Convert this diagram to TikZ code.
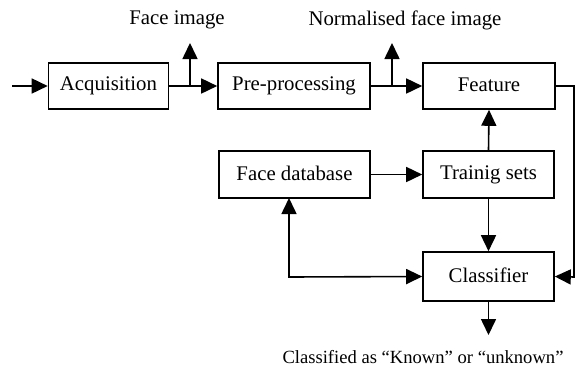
\documentclass[tikz,border=0pt]{standalone}
\usepackage{fontspec}
\setmainfont{Liberation Serif}
\usetikzlibrary{arrows.meta}
\begin{document}
\begin{tikzpicture}[x=1pt,y=-1pt,
  box/.style={draw,line width=1.6pt,minimum height=46pt,inner sep=0pt,
    font=\fontsize{20.8}{24}\selectfont},
  lbl/.style={inner sep=0pt,font=\fontsize{20.8}{24}\selectfont},
  conn/.style={line width=1.6pt},
  arr/.style={conn,-{Triangle[length=16pt,width=15pt]}},
  darr/.style={conn,{Triangle[length=16pt,width=15pt]}-{Triangle[length=16pt,width=15pt]}}]
\useasboundingbox (0,0) rectangle (577,375);
\fill[white] (0,0) rectangle (577,375);
% boxes
\node[box,minimum width=120pt] (acq) at (108.5,86) {\raisebox{3pt}{Acquisition}};
\node[box,minimum width=152pt] (pre) at (294,86) {\raisebox{3pt}{Pre-processing}};
\node[box,minimum width=132pt] (fea) at (489,86) {\raisebox{3pt}{Feature}};
\node[box,minimum width=151pt,minimum height=47pt] (fdb) at (294.5,174.5) {\raisebox{3pt}{Face database}};
\node[box,minimum width=131pt,minimum height=47pt] (trn) at (488.5,174.5) {\raisebox{3pt}{Trainig sets}};
\node[box,minimum width=131pt,minimum height=49pt] (cls) at (488.5,276.5) {\raisebox{3pt}{Classifier}};
% labels
\node[lbl] (lface) at (177,20) {Face image};
\node[lbl] (lnorm) at (405,20) {Normalised face image};
\node[lbl,font=\fontsize{18.6}{22}\selectfont] (lres) at (423,357) {Classified as “Known” or “unknown”};
% coordinates
\coordinate (in) at (12,86);
\coordinate (b1) at (190,86);
\coordinate (t1) at (190,43);
\coordinate (b2) at (392,86);
\coordinate (t2) at (392,43);
\coordinate (r1) at (574,86);
\coordinate (r2) at (574,277);
\coordinate (l1) at (289,198);
\coordinate (l2) at (289,277);
\coordinate (out) at (488.5,335);
% connectors
\draw[arr] (in) -- (acq.west);
\draw[arr] (acq.east) -- (pre.west);
\draw[arr] (b1) -- (t1);
\draw[arr] (pre.east) -- (fea.west);
\draw[arr] (b2) -- (t2);
\draw[arr] (fea.east) -- (r1) -- (r2) -- (cls.east);
\draw[arr] (trn.north) -- (fea.south);
\draw[arr] (trn.south) -- (cls.north);
\draw[arr] (fdb.east) -- (trn.west);
\draw[darr] (l1) -- (l2) -- (cls.west);
\draw[arr] (cls.south) -- (out);
\end{tikzpicture}
\end{document}
